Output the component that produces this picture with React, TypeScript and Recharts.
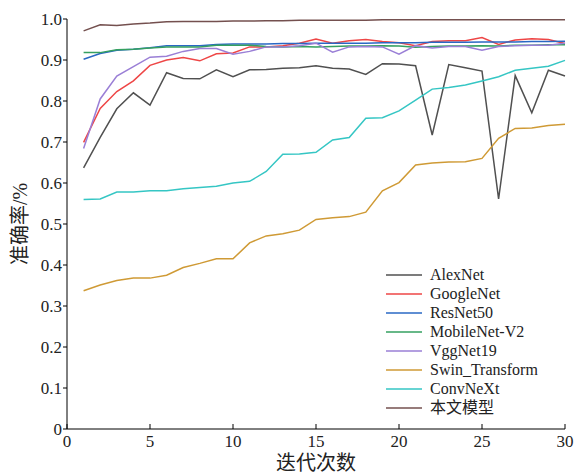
import { LineChart, Line, XAxis, YAxis } from "recharts";

const epochs = [
  1, 2, 3, 4, 5, 6, 7, 8, 9, 10, 11, 12, 13, 14, 15, 16, 17, 18, 19, 20, 21,
  22, 23, 24, 25, 26, 27, 28, 29, 30,
];

const alexNet = [
  0.637, 0.711, 0.781, 0.82, 0.79, 0.869, 0.855, 0.854, 0.876, 0.859, 0.876,
  0.877, 0.88, 0.881, 0.886, 0.88, 0.878, 0.865, 0.891, 0.89, 0.886, 0.717,
  0.889, 0.881, 0.873, 0.561, 0.862, 0.771, 0.875, 0.861,
];
const googleNet = [
  0.699, 0.782, 0.823, 0.849, 0.887, 0.9, 0.906, 0.898, 0.915, 0.917, 0.932,
  0.932, 0.935, 0.941, 0.951, 0.941, 0.947, 0.95, 0.945, 0.942, 0.935, 0.945,
  0.947, 0.947, 0.955, 0.938, 0.949, 0.952, 0.95, 0.94,
];
const resNet50 = [
  0.902, 0.916, 0.924, 0.926, 0.93, 0.935, 0.935, 0.935, 0.938, 0.939, 0.939,
  0.939, 0.94, 0.94, 0.941, 0.941, 0.941, 0.941, 0.942, 0.942, 0.942, 0.943,
  0.943, 0.943, 0.944, 0.944, 0.944, 0.945, 0.945, 0.946,
];
const mobileNetV2 = [
  0.918, 0.918, 0.925, 0.926, 0.929, 0.932, 0.932, 0.932, 0.936, 0.936, 0.936,
  0.933, 0.932, 0.933, 0.932, 0.933, 0.934, 0.934, 0.935, 0.934, 0.931, 0.933,
  0.934, 0.934, 0.935, 0.934, 0.936, 0.936, 0.937, 0.937,
];
const vggNet19 = [
  0.684, 0.805, 0.861, 0.884, 0.907, 0.909, 0.921, 0.928, 0.928, 0.914, 0.921,
  0.932, 0.932, 0.935, 0.941, 0.919, 0.932, 0.933, 0.932, 0.914, 0.935, 0.929,
  0.933, 0.933, 0.924, 0.933, 0.935, 0.936, 0.936, 0.941,
];
const swinTransform = [
  0.337, 0.351, 0.362, 0.368, 0.368, 0.375, 0.394, 0.404, 0.415, 0.415, 0.454,
  0.471, 0.476, 0.485, 0.511, 0.515, 0.518, 0.529, 0.581, 0.601, 0.644, 0.649,
  0.651, 0.652, 0.66, 0.709, 0.733, 0.734, 0.74, 0.743,
];
const convNeXt = [
  0.56, 0.561, 0.578, 0.578, 0.581, 0.581, 0.586, 0.589, 0.592, 0.6, 0.604,
  0.628, 0.67, 0.671, 0.675, 0.705, 0.711, 0.758, 0.759, 0.776, 0.802, 0.829,
  0.833, 0.839, 0.849, 0.859, 0.875, 0.88, 0.885, 0.899,
];
const ourModel = [
  0.971, 0.986, 0.984, 0.988, 0.99, 0.993, 0.994, 0.994, 0.994, 0.995, 0.995,
  0.996, 0.996, 0.997, 0.997, 0.997, 0.997, 0.997, 0.998, 0.998, 0.998, 0.998,
  0.998, 0.998, 0.998, 0.998, 0.998, 0.998, 0.998, 0.998,
];

const xTicks = [0, 5, 10, 15, 20, 25, 30];
const yTicks = [0, 0.1, 0.2, 0.3, 0.4, 0.5, 0.6, 0.7, 0.8, 0.9, 1.0];

const series = [
  { key: "alexNet", name: "AlexNet", values: alexNet, color: "#505050" },
  { key: "googleNet", name: "GoogleNet", values: googleNet, color: "#ee4646" },
  { key: "resNet50", name: "ResNet50", values: resNet50, color: "#2a68c4" },
  { key: "mobileNetV2", name: "MobileNet-V2", values: mobileNetV2, color: "#35a060" },
  { key: "vggNet19", name: "VggNet19", values: vggNet19, color: "#9a7fd6" },
  { key: "swinTransform", name: "Swin_Transform", values: swinTransform, color: "#cf9a35" },
  { key: "convNeXt", name: "ConvNeXt", values: convNeXt, color: "#35c6c4" },
  { key: "ourModel", name: "本文模型", values: ourModel, color: "#74504f" },
];

const data = epochs.map((epoch, i) => {
  const row: Record<string, number> = { epoch };
  series.forEach((s) => {
    row[s.key] = s.values[i];
  });
  return row;
});

const FONT = '"Liberation Serif", "Noto Sans CJK SC", serif';

function LegendBox() {
  return (
    <div
      style={{
        position: "absolute",
        left: 386,
        top: 265,
        fontFamily: FONT,
        fontSize: 16,
        color: "#222",
      }}
    >
      {series.map((s) => (
        <div
          key={s.key}
          style={{ display: "flex", alignItems: "center", height: 19 }}
        >
          <svg width={36} height={4} style={{ marginRight: 8 }}>
            <line x1={0} y1={2} x2={36} y2={2} stroke={s.color} strokeWidth={1.5} />
          </svg>
          <span style={{ lineHeight: "19px", whiteSpace: "nowrap" }}>{s.name}</span>
        </div>
      ))}
    </div>
  );
}

function YLabel({ viewBox }: { viewBox?: { x: number; y: number; height: number } }) {
  if (!viewBox) return null;
  const cx = 20;
  const cy = viewBox.y + viewBox.height / 2;
  return (
    <text
      x={cx}
      y={cy}
      transform={`rotate(-90 ${cx} ${cy})`}
      textAnchor="middle"
      dominantBaseline="central"
      fontFamily={FONT}
      fontSize={20}
      fill="#222"
    >
      准确率/%
    </text>
  );
}

function XLabel({ viewBox }: { viewBox?: { x: number; y: number; width: number } }) {
  if (!viewBox) return null;
  return (
    <text
      x={viewBox.x + viewBox.width / 2}
      y={463}
      textAnchor="middle"
      dominantBaseline="central"
      fontFamily={FONT}
      fontSize={20}
      fill="#222"
    >
      迭代次数
    </text>
  );
}

export default function App() {
  return (
    <div
      style={{
        position: "fixed",
        left: 0,
        top: 0,
        width: 581,
        height: 473,
        background: "#fff",
      }}
    >
      <LineChart
        width={581}
        height={473}
        data={data}
        margin={{ top: 19, right: 16, bottom: 0, left: 0 }}
      >
        <XAxis
          dataKey="epoch"
          type="number"
          domain={[0, 30]}
          ticks={xTicks}
          height={44}
          stroke="#000"
          tickSize={-5}
          tickMargin={11}
          tick={{ fill: "#222", fontSize: 17, fontFamily: FONT }}
          label={<XLabel />}
        />
        <YAxis
          type="number"
          domain={[0, 1]}
          ticks={yTicks}
          width={67}
          stroke="#000"
          tickSize={4}
          tickMargin={1}
          interval={0}
          tickFormatter={(v: number) => (v === 0 ? "0" : v.toFixed(1))}
          tick={{ fill: "#222", fontSize: 17, fontFamily: FONT }}
          label={<YLabel />}
        />
        {series.map((s) => (
          <Line
            key={s.key}
            dataKey={s.key}
            name={s.name}
            stroke={s.color}
            strokeWidth={1.5}
            dot={false}
            isAnimationActive={false}
          />
        ))}
      </LineChart>
      <LegendBox />
    </div>
  );
}
